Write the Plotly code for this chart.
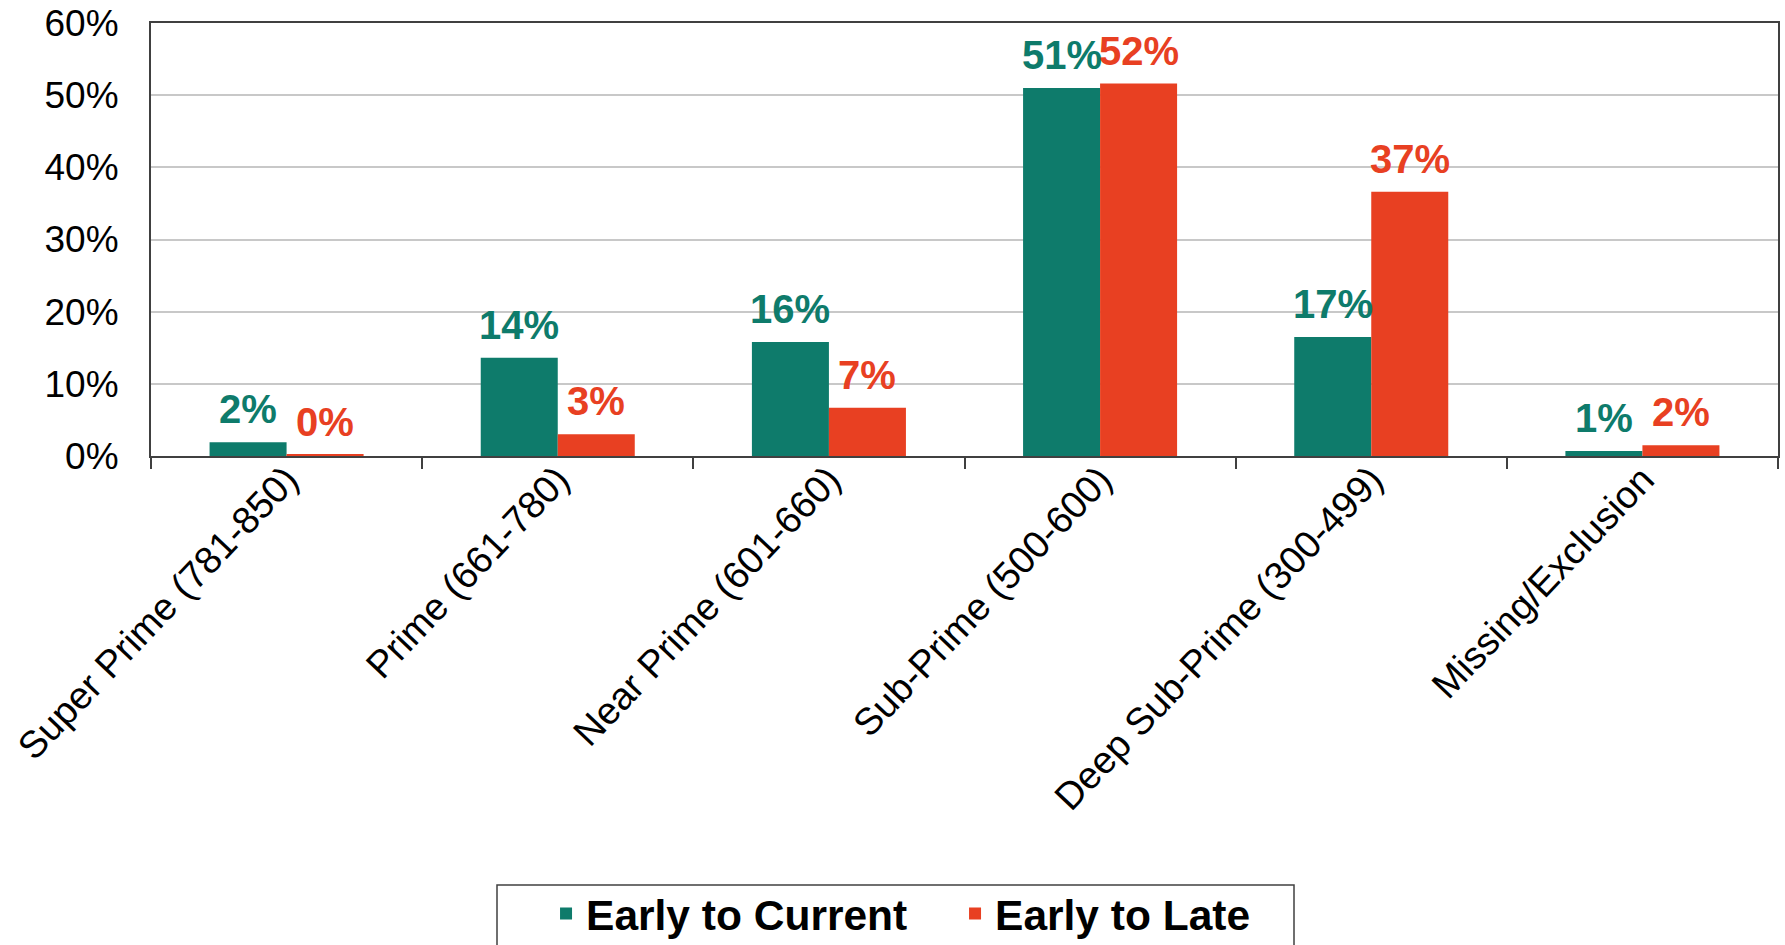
import plotly.graph_objects as go

categories = ["Super Prime (781-850)", "Prime (661-780)", "Near Prime (601-660)",
              "Sub-Prime (500-600)", "Deep Sub-Prime (300-499)", "Missing/Exclusion"]
early_to_current = [1.9, 13.6, 15.8, 51.0, 16.5, 0.7]
early_to_late = [0.2, 3.0, 6.7, 51.6, 36.6, 1.5]
current_labels = ["2%", "14%", "16%", "51%", "17%", "1%"]
late_labels = ["0%", "3%", "7%", "52%", "37%", "2%"]
y_ticks = [0, 10, 20, 30, 40, 50, 60]
y_ticktext = ["0%", "10%", "20%", "30%", "40%", "50%", "60%"]

GREEN = "#0E7B6B"
RED = "#E84022"
AXIS = "#404040"
FONT = "Liberation Sans, Arial, sans-serif"
BARGAP = 0.432

fig = go.Figure()
fig.add_trace(go.Bar(x=categories, y=early_to_current, name="Early to Current",
                     marker=dict(color=GREEN, line=dict(width=0))))
fig.add_trace(go.Bar(x=categories, y=early_to_late, name="Early to Late",
                     marker=dict(color=RED, line=dict(width=0))))

off = (1 - BARGAP) / 4
annotations = []
for i in range(len(categories)):
    for vals, labs, col, sign in ((early_to_current, current_labels, GREEN, -1),
                                  (early_to_late, late_labels, RED, 1)):
        annotations.append(dict(
            x=i + sign * off, y=vals[i], xref="x", yref="y",
            text=labs[i], showarrow=False, yanchor="bottom", xanchor="center",
            yshift=9, font=dict(family=FONT, size=40, color=col, weight="bold")))

fig.update_layout(
    width=1785, height=945,
    margin=dict(l=151, r=7, t=23, b=489, autoexpand=False),
    paper_bgcolor="white", plot_bgcolor="white",
    barmode="group", bargap=BARGAP, bargroupgap=0,
    font=dict(family=FONT, color="black"),
    annotations=annotations,
    showlegend=True,
    legend=dict(orientation="h", x=0.2428, xanchor="left", y=-0.978, yanchor="top",
                font=dict(family=FONT, size=42.5, color="black", weight="bold"),
                bgcolor="rgba(0,0,0,0)", borderwidth=0,
                entrywidth=364, entrywidthmode="pixels", itemwidth=30),
    shapes=[dict(type="rect", xref="paper", yref="paper",
                 x0=(497 - 151) / 1627, x1=(1294 - 151) / 1627,
                 y0=(456 - 885) / 433, y1=-1.3,
                 line=dict(color=AXIS, width=1.5), fillcolor="rgba(0,0,0,0)")],
)
fig.update_xaxes(
    type="category", showline=True, linecolor=AXIS, linewidth=2, mirror=True,
    ticks="outside", tickson="boundaries", ticklen=11, tickwidth=2, tickcolor=AXIS,
    tickangle=-46.5, tickfont=dict(family=FONT, size=38, color="black"),
    ticklabelstandoff=-16, automargin=False,
    showgrid=False,
)
fig.update_yaxes(
    range=[0, 60], tickvals=y_ticks, ticktext=y_ticktext,
    showline=True, linecolor=AXIS, linewidth=2, mirror=True,
    ticks="", ticklabelstandoff=23, automargin=False,
    tickfont=dict(family=FONT, size=37, color="black"),
    showgrid=True, gridcolor="#C8C8C8", gridwidth=1.5, zeroline=False,
)

fig.write_html("out.html")
